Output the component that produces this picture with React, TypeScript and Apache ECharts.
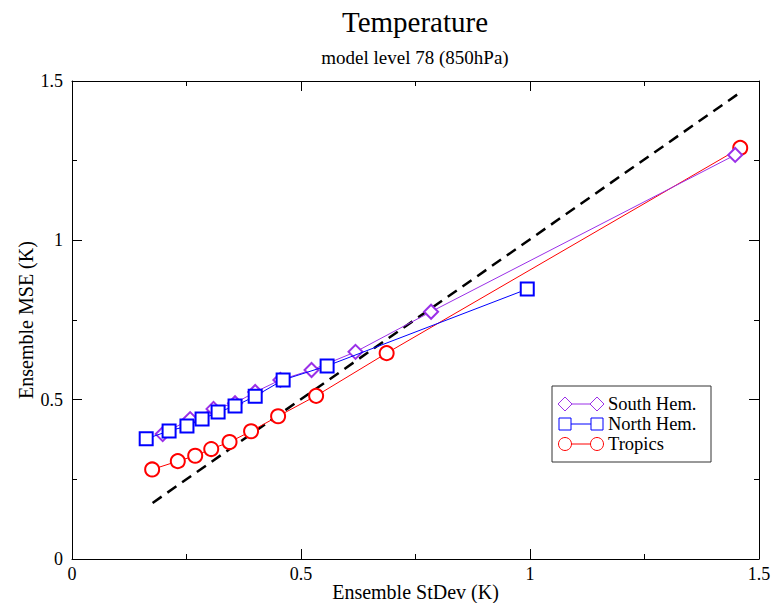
import React, { useEffect, useRef } from "react";
import * as echarts from "echarts";

const FONT = "Liberation Serif, Times New Roman, serif";

const southX = [0.198, 0.258, 0.309, 0.356, 0.400, 0.455, 0.523, 0.619, 0.784, 1.448];
const southY = [0.392, 0.439, 0.471, 0.489, 0.524, 0.562, 0.593, 0.650, 0.776, 1.268];

const northX = [0.162, 0.212, 0.251, 0.284, 0.319, 0.356, 0.400, 0.461, 0.557, 0.994];
const northY = [0.377, 0.402, 0.417, 0.439, 0.461, 0.480, 0.511, 0.562, 0.606, 0.847];

const tropX = [0.175, 0.231, 0.269, 0.304, 0.344, 0.391, 0.450, 0.533, 0.687, 1.459];
const tropY = [0.281, 0.307, 0.324, 0.345, 0.367, 0.401, 0.448, 0.512, 0.646, 1.290];

const refX = [0.176, 1.46];
const refY = [0.176, 1.465];

const xTicks = [0, 0.5, 1, 1.5];
const yTicks = [0, 0.5, 1, 1.5];

const PURPLE = "#9b30e8";
const BLUE = "#0000ff";
const RED = "#ff0000";

const zip = (a: number[], b: number[]) => a.map((v, i) => [v, b[i]]);

export default function App() {
  const ref = useRef<HTMLDivElement>(null);
  useEffect(() => {
    if (!ref.current) return;
    const chart = echarts.init(ref.current, undefined, { renderer: "svg" });
    const axisCommon = {
      min: xTicks[0],
      max: xTicks[xTicks.length - 1],
      interval: 0.5,
      axisLine: { show: true, onZero: false, lineStyle: { color: "#000", width: 1 } },
      axisTick: { show: true, inside: true, length: 10, lineStyle: { color: "#000" } },
      minorTick: { show: true, splitNumber: 2, length: 5, lineStyle: { color: "#000" } },
      splitLine: { show: false },
    };
    const labelStyle = { color: "#000", fontFamily: FONT, fontSize: 18 };
    const legendRows = [
      { name: "South Hem.", color: PURPLE, sym: "diamond" },
      { name: "North Hem.", color: BLUE, sym: "square" },
      { name: "Tropics", color: RED, sym: "circle" },
    ];
    const legendEls: any[] = [
      {
        type: "rect",
        shape: { x: 552, y: 386, width: 159, height: 76 },
        style: { fill: "#fff", stroke: "#333", lineWidth: 1 },
        z: 100,
      },
    ];
    legendRows.forEach((r, i) => {
      const cy = 404 + i * 20;
      const x1 = 565, x2 = 597;
      legendEls.push({
        type: "line",
        shape: { x1, y1: cy, x2, y2: cy },
        style: { stroke: r.color, lineWidth: 1 },
        z: 101,
      });
      [x1, x2].forEach((cx) => {
        if (r.sym === "diamond") {
          legendEls.push({
            type: "polygon",
            shape: { points: [[cx - 7, cy], [cx, cy - 7], [cx + 7, cy], [cx, cy + 7]] },
            style: { fill: "#fff", stroke: r.color, lineWidth: 1 },
            z: 102,
          });
        } else if (r.sym === "square") {
          legendEls.push({
            type: "rect",
            shape: { x: cx - 6, y: cy - 6, width: 12, height: 12 },
            style: { fill: "#fff", stroke: r.color, lineWidth: 1 },
            z: 102,
          });
        } else {
          legendEls.push({
            type: "circle",
            shape: { cx, cy, r: 6.5 },
            style: { fill: "#fff", stroke: r.color, lineWidth: 1 },
            z: 102,
          });
        }
      });
      legendEls.push({
        type: "text",
        x: 608,
        y: cy,
        style: {
          text: r.name,
          fill: "#000",
          fontFamily: FONT,
          fontSize: 18.5,
          verticalAlign: "middle",
        },
        z: 103,
      });
    });

    const symStyle = (c: string) => ({ color: c, borderColor: c, borderWidth: 0.8 });

    chart.setOption({
      animation: false,
      backgroundColor: "#fff",
      grid: { left: 72, right: 20, top: 81, bottom: 44, containLabel: false, outerBoundsMode: "none" },
      graphic: [
        {
          type: "text",
          x: 415,
          y: 7,
          style: { text: "Temperature", fill: "#000", fontFamily: FONT, fontSize: 29, align: "center" },
        },
        {
          type: "text",
          x: 415,
          y: 48,
          style: { text: "model level 78 (850hPa)", fill: "#000", fontFamily: FONT, fontSize: 19, align: "center" },
        },
        ...legendEls,
      ],
      xAxis: [
        {
          ...axisCommon,
          type: "value",
          position: "bottom",
          name: "Ensemble StDev (K)",
          nameLocation: "middle",
          nameGap: 23,
          nameMoveOverlap: false,
          nameTextStyle: { color: "#000", fontFamily: FONT, fontSize: 20, lineHeight: 20 },
          axisLabel: { ...labelStyle, margin: 6 },
        },
        {
          ...axisCommon,
          type: "value",
          position: "top",
          axisLabel: { show: false },
        },
      ],
      yAxis: [
        {
          ...axisCommon,
          min: yTicks[0],
          max: yTicks[yTicks.length - 1],
          type: "value",
          position: "left",
          name: "Ensemble MSE (K)",
          nameLocation: "middle",
          nameGap: 36,
          nameMoveOverlap: false,
          nameTextStyle: { color: "#000", fontFamily: FONT, fontSize: 20 },
          axisLabel: { ...labelStyle, margin: 9 },
        },
        {
          ...axisCommon,
          min: yTicks[0],
          max: yTicks[yTicks.length - 1],
          type: "value",
          position: "right",
          axisLabel: { show: false },
        },
      ],
      series: [
        {
          name: "Reference",
          type: "line",
          data: zip(refX, refY),
          symbol: "none",
          lineStyle: { color: "#000", width: 2.5, type: [11, 7] },
          z: 1,
        },
        {
          name: "South Hem.",
          type: "line",
          data: zip(southX, southY),
          symbol: "emptyDiamond",
          symbolSize: 14,
          lineStyle: { color: PURPLE, width: 1 },
          itemStyle: symStyle(PURPLE),
          z: 3,
        },
        {
          name: "North Hem.",
          type: "line",
          data: zip(northX, northY),
          symbol: "emptyRect",
          symbolSize: 13,
          lineStyle: { color: BLUE, width: 1 },
          itemStyle: symStyle(BLUE),
          z: 4,
        },
        {
          name: "Tropics",
          type: "line",
          data: zip(tropX, tropY),
          symbol: "emptyCircle",
          symbolSize: 14,
          lineStyle: { color: RED, width: 1 },
          itemStyle: symStyle(RED),
          z: 2,
        },
      ],
    });
    return () => chart.dispose();
  }, []);
  return <div ref={ref} style={{ width: 779, height: 603, position: "absolute", left: 0, top: 0 }} />;
}
